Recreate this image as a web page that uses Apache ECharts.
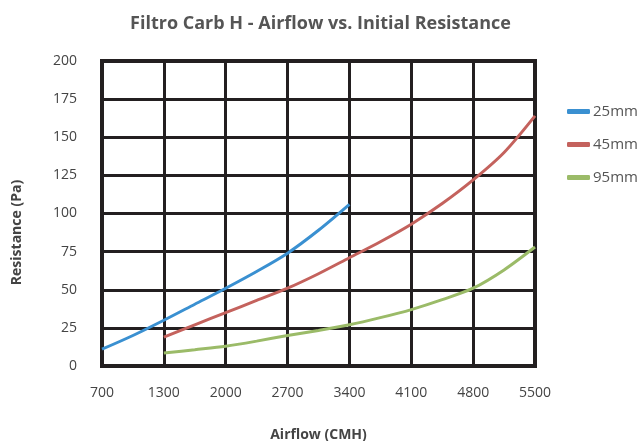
<!DOCTYPE html>
<html>
<head>
<meta charset="utf-8">
<script src="https://cdn.jsdelivr.net/npm/echarts@6/dist/echarts.min.js"></script>
<style>
	html, body { margin: 0; padding: 0; background: #fff; }
	#chart { width: 641px; height: 441px; }
</style>
</head>
<body>
<div id="chart"></div>
<script>
// x axis ticks are evenly spaced even though 700 -> 1300 is a smaller step
const xTicks = [700, 1300, 2000, 2700, 3400, 4100, 4800, 5500]
const yTicks = [0, 25, 50, 75, 100, 125, 150, 175, 200]

const names = ["25mm", "45mm", "95mm"]
const colors = ["#3a90d1", "#c4625d", "#9bbb68"]

// [airflow CMH, resistance Pa]
const s25 = [[700, 11], [1000, 20], [1300, 30], [1650, 40.5], [2000, 51], [2350, 62], [2700, 74], [3050, 89], [3400, 106]]
const s45 = [[1300, 19], [1650, 27], [2000, 35], [2350, 43], [2700, 51], [3050, 60.5], [3400, 71], [3750, 81.5],
	[4100, 93], [4450, 106.5], [4800, 122], [5150, 140], [5500, 164]]
const s95 = [[1300, 8.5], [1650, 10.7], [2000, 13], [2350, 16.3], [2700, 20], [3050, 23.3], [3400, 27], [3750, 31.7],
	[4100, 37], [4450, 43.5], [4800, 51], [5150, 63], [5500, 78]]

// put airflow on the evenly spaced tick positions
function toPos(v) {
	for (let i = 0; i < xTicks.length - 1; i++) {
		if (v <= xTicks[i + 1]) {
			return i + (v - xTicks[i]) / (xTicks[i + 1] - xTicks[i])
		}
	}
	return xTicks.length - 1
}

const chart = echarts.init(document.getElementById("chart"))

let series = []
const allData = [s25, s45, s95]
for (let i = 0; i < names.length; i++) {
	series.push({
		type: "line",
		name: names[i],
		smooth: 0.3,
		symbol: "none",
		data: allData[i].map(p => [toPos(p[0]), p[1]]),
		lineStyle: { width: 3, color: colors[i] },
		itemStyle: { color: colors[i] }
	})
}

const option = {
	backgroundColor: "#fff",
	animation: false,
	title: {
		text: "Filtro Carb H - Airflow vs. Initial Resistance",
		left: "center",
		top: 10,
		textStyle: {
			fontFamily: "Open Sans",
			fontWeight: "bold",
			fontSize: 18,
			color: "#555"
		}
	},
	legend: {
		orient: "vertical",
		left: 562,
		top: 99,
		itemWidth: 23,
		itemHeight: 5,
		itemGap: 18,
		icon: "roundRect",
		textStyle: { fontFamily: "Open Sans", fontSize: 15, color: "#555", padding: [0, 0, 0, -2] },
		data: names
	},
	grid: {
		left: 102,
		right: 106,
		top: 61,
		bottom: 75,
		outerBoundsMode: "none",
		show: true,
		borderColor: "#231f20",
		borderWidth: 4
	},
	xAxis: {
		type: "value",
		min: 0,
		max: xTicks.length - 1,
		interval: 1,
		name: "Airflow (CMH)",
		nameLocation: "middle",
		nameGap: 62,
		nameTextStyle: { fontFamily: "Open Sans", fontWeight: "bold", fontSize: 14, color: "#444" },
		axisLine: { show: false },
		axisTick: { show: false },
		axisLabel: {
			margin: 20,
			fontFamily: "Open Sans",
			fontSize: 14,
			color: "#444",
			formatter: v => String(xTicks[v])
		},
		splitLine: { lineStyle: { color: "#231f20", width: 3 } }
	},
	yAxis: {
		type: "value",
		min: yTicks[0],
		max: yTicks[yTicks.length - 1],
		interval: 25,
		name: "Resistance (Pa)",
		nameLocation: "middle",
		nameGap: 78,
		nameTextStyle: {
			fontFamily: "Open Sans",
			fontWeight: "bold",
			fontSize: 14,
			color: "#444",
			padding: [0, 38, 0, 0]
		},
		axisLine: { show: false },
		axisTick: { show: false },
		axisLabel: {
			margin: 25,
			fontFamily: "Open Sans",
			fontSize: 14,
			color: "#444"
		},
		splitLine: { lineStyle: { color: "#231f20", width: 3 } }
	},
	series: series
}

chart.setOption(option)
</script>
</body>
</html>
